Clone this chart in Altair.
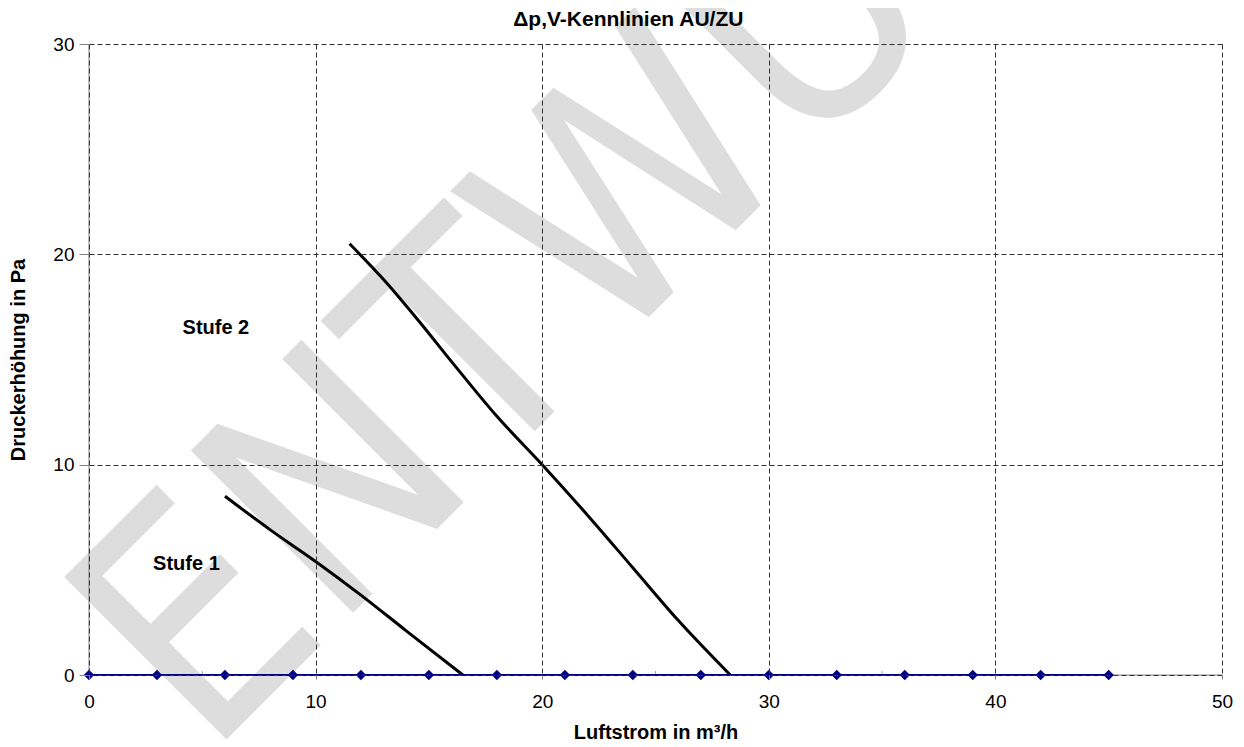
import altair as alt
import pandas as pd

# ---- data ----
x_domain = [0, 50]
y_domain = [0, 30]
x_ticks = [0, 10, 20, 30, 40, 50]
x_minor = [5, 15, 25, 35, 45]
y_ticks = [0, 10, 20, 30]

stufe1_x = [6.0, 8.0, 10.0, 12.0, 14.0, 16.5]
stufe1_y = [8.5, 6.9, 5.4, 3.8, 2.1, 0.0]

stufe2_x = [11.5, 13.0, 14.5, 16.0, 18.0, 20.0, 22.0, 24.0, 26.0, 28.3]
stufe2_y = [20.5, 18.8, 16.9, 14.9, 12.3, 10.0, 7.6, 5.1, 2.6, 0.0]

base_x = [0, 3, 6, 9, 12, 15, 18, 21, 24, 27, 30, 33, 36, 39, 42, 45]
base_y = [0] * len(base_x)

label_text = ["Stufe 1", "Stufe 2"]
label_x = [4.3, 5.6]
label_y = [5.3, 16.5]

title_text = ["Δp,V-Kennlinien AU/ZU"]
title_x = [23.8]
title_y = [30]

watermark_text = ["ENTWURF"]
watermark_x = [5.2]
watermark_y = [-4.0]

FONT = "Liberation Sans"

df1 = pd.DataFrame({"x": stufe1_x, "y": stufe1_y})
df2 = pd.DataFrame({"x": stufe2_x, "y": stufe2_y})
dfb = pd.DataFrame({"x": base_x, "y": base_y})
dfl = pd.DataFrame({"x": label_x, "y": label_y, "t": label_text})
dft = pd.DataFrame({"x": title_x, "y": title_y, "t": title_text})
dfw = pd.DataFrame({"x": watermark_x, "y": watermark_y, "t": watermark_text})
dfminor = pd.DataFrame({"x": x_minor, "y": [0] * len(x_minor)})
dfax = pd.DataFrame({"x": [x_domain[0]], "x2": [x_domain[1]], "y": [y_domain[0]], "y2": [y_domain[1]]})

xscale = alt.Scale(domain=x_domain, nice=False, zero=False)
yscale = alt.Scale(domain=y_domain, nice=False, zero=False)

xaxis = alt.Axis(
    values=x_ticks, title="Luftstrom in m³/h", domain=False, grid=True,
    gridDash=[5, 3], gridColor="#333333", gridWidth=1, gridOpacity=1,
    tickSize=4, tickColor="#808080", labelFont=FONT, labelFontSize=19, labelColor="#000000",
    labelPadding=13, titleFont=FONT, titleFontSize=20, titleFontWeight="bold",
    titleColor="#000000", titlePadding=11, zindex=1, labelFlush=False,
)
yaxis = alt.Axis(
    values=y_ticks, title="Druckerhöhung in Pa", domain=False, grid=True,
    gridDash=[5, 3], gridColor="#333333", gridWidth=1, gridOpacity=1,
    tickSize=10, tickColor="#808080", labelFont=FONT, labelFontSize=19, labelColor="#000000",
    labelPadding=5, titleFont=FONT, titleFontSize=20, titleFontWeight="bold",
    titleColor="#000000", titlePadding=24, zindex=1, labelFlush=False,
)

wm = alt.Chart(dfw).mark_text(
    angle=315, align="left", baseline="alphabetic", fontSize=315,
    font="Liberation Sans Narrow, DejaVu Sans Condensed, sans-serif", color="#dddddd",
).encode(x=alt.X("x:Q", scale=xscale, axis=xaxis), y=alt.Y("y:Q", scale=yscale, axis=yaxis), text="t:N")

xline = alt.Chart(dfax).mark_rule(color="#808080", strokeWidth=1).encode(
    x="x:Q", x2="x2:Q", y="y:Q")
yline = alt.Chart(dfax).mark_rule(color="#808080", strokeWidth=1).encode(
    x="x:Q", y="y:Q", y2="y2:Q")
minor = alt.Chart(dfminor).mark_tick(color="#808080", size=4, thickness=1, orient="vertical", yOffset=-2).encode(
    x="x:Q", y="y:Q")

l1 = alt.Chart(df1).mark_line(color="#000000", strokeWidth=3, interpolate="monotone").encode(x="x:Q", y="y:Q")
l2 = alt.Chart(df2).mark_line(color="#000000", strokeWidth=3, interpolate="monotone").encode(x="x:Q", y="y:Q")
base = alt.Chart(dfb).mark_line(color="#000080", strokeWidth=2).encode(x="x:Q", y="y:Q")
pts = alt.Chart(dfb).mark_point(shape="diamond", filled=True, color="#000080", size=110, opacity=1).encode(x="x:Q", y="y:Q")
labels = alt.Chart(dfl).mark_text(font=FONT, fontSize=20, fontWeight="bold", color="#000000").encode(
    x="x:Q", y="y:Q", text="t:N")
title = alt.Chart(dft).mark_text(font=FONT, fontSize=21, fontWeight="bold", color="#000000",
                                 baseline="alphabetic", dy=-18).encode(x="x:Q", y="y:Q", text="t:N")

chart = alt.layer(wm, xline, yline, minor, l1, l2, base, pts, labels, title).properties(
    width=1133, height=631,
    autosize=alt.AutoSizeParams(type="none"),
    padding={"left": 81, "top": 36, "right": 14, "bottom": 70},
).configure_view(stroke=None)

chart.save("out.html", embed_options={"renderer": "svg", "actions": False})
